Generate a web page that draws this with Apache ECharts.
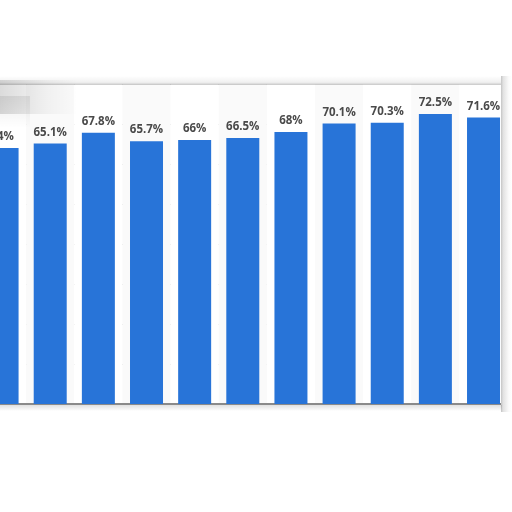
<!DOCTYPE html>
<html>
<head>
<meta charset="utf-8">
<script src="https://cdn.jsdelivr.net/npm/echarts@6/dist/echarts.min.js"></script>
<style>
  html, body { margin: 0; padding: 0; background: #fff; overflow: hidden; }
  #chart { width: 534px; height: 512px; margin-left: -22px; }
</style>
</head>
<body>
<div id="chart"></div>
<script>
// categories (axis labels are cut off in the picture)
const categories = ['1', '2', '3', '4', '5', '6', '7', '8', '9', '10', '11'];
// share in percent
const values = [64, 65.1, 67.8, 65.7, 66, 66.5, 68, 70.1, 70.3, 72.5, 71.6];
const yTicks = [0, 10, 20, 30, 40, 50, 60, 70, 80];

// the chart box starts 22px left of the visible window
const dx = 22;

const myChart = echarts.init(document.getElementById('chart'));

const option = {
  animation: false,
  backgroundColor: '#fff',
  grid: {
    left: 0,
    right: 4.4,
    top: 84,
    bottom: 108,
    show: true,
    backgroundColor: '#fff',
    borderWidth: 0
  },
  xAxis: {
    type: 'category',
    data: categories,
    axisTick: { show: false },
    axisLabel: { show: false },
    axisLine: { lineStyle: { color: '#8a8a8a', width: 2 } },
    splitArea: { show: true, areaStyle: { color: ['#ffffff', '#fafafa'] } }
  },
  yAxis: {
    type: 'value',
    min: yTicks[0],
    max: yTicks[yTicks.length - 1],
    interval: 10,
    axisLabel: { show: false },
    axisLine: { show: false },
    axisTick: { show: false },
    splitLine: { lineStyle: { color: '#c8c8c8', type: 'dotted', width: 1 } }
  },
  series: [
    {
      type: 'bar',
      data: values,
      barWidth: 33,
      itemStyle: { color: '#2874d8' },
      label: {
        show: true,
        position: 'top',
        distance: 5,
        formatter: p => p.value + '%',
        color: '#4a4a4a',
        fontFamily: 'Open Sans',
        fontSize: 11.5,
        fontWeight: 'bold'
      }
    }
  ],
  graphic: [
    // shadow above the top frame line
    {
      type: 'rect', z: 100, silent: true,
      shape: { x: dx, y: 76, width: 502, height: 9 },
      style: {
        fill: new echarts.graphic.LinearGradient(0, 0, 0, 1, [
          { offset: 0, color: 'rgba(0,0,0,0)' },
          { offset: 0.7, color: 'rgba(0,0,0,0.06)' },
          { offset: 1, color: 'rgba(0,0,0,0.22)' }
        ])
      }
    },
    // right edge of the card and its shadow
    {
      type: 'rect', z: 100, silent: true,
      shape: { x: dx + 501, y: 76, width: 11, height: 336 },
      style: {
        fill: new echarts.graphic.LinearGradient(0, 0, 1, 0, [
          { offset: 0, color: '#c4c4c4' },
          { offset: 0.2, color: '#e2e2e2' },
          { offset: 0.7, color: '#fafafa' },
          { offset: 1, color: '#ffffff' }
        ])
      }
    },
    // soft shadow under the baseline
    {
      type: 'rect', z: 100, silent: true,
      shape: { x: dx, y: 405, width: 502, height: 6 },
      style: {
        fill: new echarts.graphic.LinearGradient(0, 0, 0, 1, [
          { offset: 0, color: 'rgba(0,0,0,0.12)' },
          { offset: 1, color: 'rgba(0,0,0,0)' }
        ])
      }
    },
    // blurred patch in the top left corner
    {
      type: 'rect', z: 100, silent: true,
      shape: { x: dx, y: 80, width: 78, height: 34 },
      style: {
        fill: new echarts.graphic.LinearGradient(0, 0, 1, 0, [
          { offset: 0, color: 'rgba(0,0,0,0.14)' },
          { offset: 0.3, color: 'rgba(0,0,0,0.09)' },
          { offset: 0.6, color: 'rgba(0,0,0,0.04)' },
          { offset: 1, color: 'rgba(0,0,0,0)' }
        ])
      }
    },
    {
      type: 'rect', z: 100, silent: true,
      shape: { x: dx, y: 96, width: 30, height: 32 },
      style: {
        fill: new echarts.graphic.LinearGradient(0, 0, 0, 1, [
          { offset: 0, color: 'rgba(0,0,0,0.08)' },
          { offset: 1, color: 'rgba(0,0,0,0)' }
        ])
      }
    }
  ]
};

myChart.setOption(option);
</script>
</body>
</html>
